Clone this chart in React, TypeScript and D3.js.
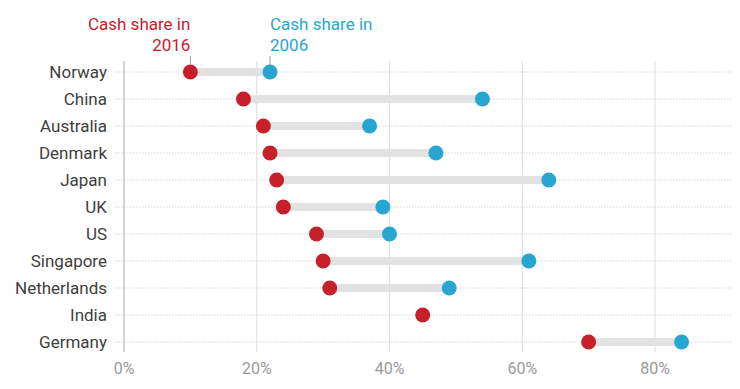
import React from "react";
import * as d3 from "d3";

const countries = ["Norway", "China", "Australia", "Denmark", "Japan", "UK", "US", "Singapore", "Netherlands", "India", "Germany"];
const share2016 = [10, 18, 21, 22, 23, 24, 29, 30, 31, 45, 70];
const share2006: (number | null)[] = [22, 54, 37, 47, 64, 39, 40, 61, 49, null, 84];
const xTicks = [0, 20, 40, 60, 80];
const label2016 = ["Cash share in", "2016"];
const label2006 = ["Cash share in", "2006"];

const W = 740, H = 389;
const RED = "#c8202b";
const BLUE = "#27a6d2";

export default function App() {
  const x = d3.scaleLinear().domain([0, 80]).range([124, 655]);
  const y = d3.scalePoint<string>().domain(countries).range([72, 342]);
  const font = "Roboto, 'Noto Sans', sans-serif";
  const r0 = y(countries[0])!;
  return (
    <svg width={W} height={H} style={{ position: "absolute", left: 0, top: 0, background: "#fff" }} fontFamily={font}>
      {countries.map((c) => (
        <line key={"h" + c} x1={115} x2={733} y1={y(c)} y2={y(c)} stroke="#d6d6d6" strokeWidth={1} strokeDasharray="1.5,1.5" />
      ))}
      {xTicks.map((t) => (
        <g key={"t" + t}>
          <line x1={x(t)} x2={x(t)} y1={61} y2={352} stroke={t === 0 ? "#a8a8a8" : "#dcdcdc"} strokeWidth={1} />
          <text x={x(t)} y={374} textAnchor="middle" fontSize={16} fill="#9a9a9a">{t}%</text>
        </g>
      ))}
      {countries.map((c, i) => (
        <text key={"l" + c} x={107} y={y(c)! + 6} textAnchor="end" fontSize={17} fill="#404040">{c}</text>
      ))}
      {countries.map((c, i) => {
        const b = share2006[i];
        return b == null ? null : (
          <line key={"b" + c} x1={x(share2016[i])} x2={x(b)} y1={y(c)} y2={y(c)} stroke="#e2e2e2" strokeWidth={8} />
        );
      })}
      {countries.map((c, i) => (
        <circle key={"r" + c} cx={x(share2016[i])} cy={y(c)} r={7.5} fill={RED} />
      ))}
      {countries.map((c, i) => {
        const b = share2006[i];
        return b == null ? null : <circle key={"c" + c} cx={x(b)} cy={y(c)} r={7.5} fill={BLUE} />;
      })}
      <line x1={x(share2016[0])} x2={x(share2016[0])} y1={56} y2={r0 - 7} stroke="#999" strokeWidth={1} />
      <line x1={x(share2006[0]!)} x2={x(share2006[0]!)} y1={56} y2={r0 - 7} stroke="#999" strokeWidth={1} />
      {label2016.map((s, k) => (
        <text key={"a" + k} x={x(share2016[0])} y={30 + k * 21} textAnchor="end" fontSize={17} fill={RED}>{s}</text>
      ))}
      {label2006.map((s, k) => (
        <text key={"b" + k} x={x(share2006[0]!)} y={30 + k * 21} textAnchor="start" fontSize={17} fill={BLUE}>{s}</text>
      ))}
    </svg>
  );
}
